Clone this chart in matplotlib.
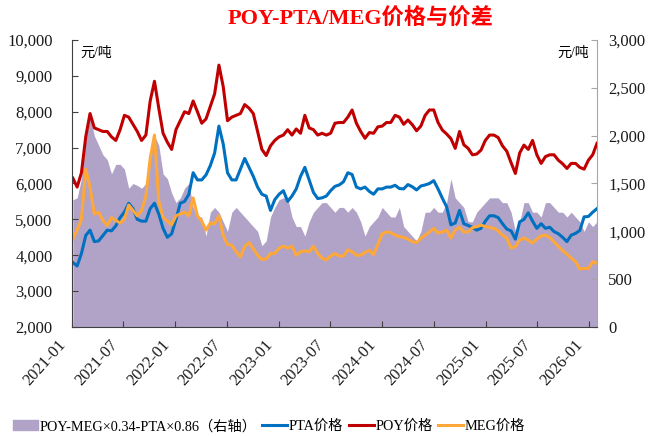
import numpy as np
import pandas as pd
import matplotlib
matplotlib.use("Agg")
import matplotlib.pyplot as plt
import matplotlib.dates as mdates
import matplotlib.ticker as ticker
import matplotlib.transforms as mtransforms
from matplotlib.patches import Patch
from matplotlib.lines import Line2D

plt.rcParams['font.family'] = ['Liberation Serif', 'Noto Sans CJK SC']

# semi-monthly readings, 2021-01 .. 2026-01 (24 per year)
poy = [6150, 5900, 6300, 7300, 7950, 7550, 7500, 7450, 7450, 7300, 7200, 7500,
       7900, 7850, 7650, 7450, 7200, 7350, 8300, 8850, 8100, 7400, 7150, 6950,
       7500, 7750, 8000, 7950, 8300, 8000, 7680, 7800, 8150, 8500, 9300, 8700,
       7750, 7850, 7900, 7950, 8200, 8100, 7950, 7450, 6950, 6780, 7050, 7200,
       7300, 7350, 7500, 7350, 7520, 7400, 7900, 7550, 7500, 7350, 7400, 7350,
       7400, 7680, 7700, 7700, 7850, 8050, 7680, 7450, 7260, 7420, 7400, 7580,
       7600, 7700, 7700, 7900, 7850, 7650, 7770, 7640, 7470, 7600, 7900, 8050,
       8050, 7700, 7490, 7380, 7250, 6980, 7450, 7080, 6980, 6800, 6820, 6930,
       7200, 7350, 7350, 7280, 7050, 6900, 6580, 6280, 6850, 7070, 6950, 7200,
       6800, 6560, 6750, 6800, 6800, 6650, 6550, 6420, 6560, 6560, 6450, 6400,
       6650, 6800, 7120]

pta = [3800, 3700, 4050, 4550, 4700, 4380, 4400, 4550, 4700, 4680, 4820, 5050,
       5200, 5450, 5300, 5000, 4950, 4950, 5300, 5450, 5150, 4750, 4500, 4600,
       5000, 5450, 5500, 5700, 6300, 6100, 6100, 6240, 6500, 6850, 7600, 7100,
       6300, 6100, 6100, 6400, 6700, 6450, 6200, 5900, 5700, 5650, 5250, 5550,
       5700, 5800, 5500, 5650, 5850, 6200, 6450, 6100, 5750, 5580, 5600, 5650,
       5800, 5920, 5960, 6050, 6300, 6250, 5900, 5850, 5900, 5780, 5700, 5850,
       5850, 5900, 5900, 5950, 5860, 5850, 5970, 5910, 5820, 5930, 5960, 6000,
       6080, 5850, 5590, 5350, 4850, 4900, 5250, 4880, 4830, 4780, 4700, 4750,
       4950, 5100, 5100, 5050, 4880, 4730, 4680, 4450, 4930, 5000, 5180, 4950,
       4750, 4880, 4750, 4780, 4660, 4600, 4500, 4380, 4560, 4610, 4690, 5070,
       5080, 5200, 5300]

meg = [4450, 4700, 5000, 6400, 5900, 5150, 5200, 4970, 4830, 5050, 4970, 4900,
       5000, 5400, 5250, 5100, 5250, 5650, 6700, 7350, 5500, 5060, 4950, 4850,
       5100, 5150, 5200, 5100, 5600, 5100, 4950, 4700, 4900, 4880, 5100, 4550,
       4300, 4280, 4100, 3950, 4250, 4350, 4180, 4000, 3880, 3900, 4050, 4050,
       4200, 4250, 4200, 4250, 4000, 4100, 4120, 4100, 4250, 4050, 3920, 3870,
       3980, 4050, 3980, 3980, 4150, 4100, 4000, 4000, 4080, 4140, 4020, 4300,
       4600, 4650, 4630, 4560, 4520, 4500, 4450, 4380, 4350, 4470, 4560, 4650,
       4750, 4620, 4650, 4700, 4480, 4700, 4780, 4650, 4650, 4770, 4800, 4840,
       4800, 4780, 4750, 4680, 4560, 4480, 4200, 4240, 4420, 4480, 4420, 4340,
       4450, 4540, 4560, 4500, 4370, 4250, 4130, 4030, 3920, 3820, 3620, 3630,
       3630, 3820, 3780]

# POY-MEG*0.34-PTA*0.86, right axis
spread = [1330, 1350, 1550, 1950, 2200, 2000, 1900, 1800, 1750, 1600, 1700, 1700,
          1650, 1450, 1500, 1480, 1450, 1500, 1750, 2000, 1900, 1600, 1550, 1400,
          1300, 1350, 1450, 1500, 1250, 1150, 1150, 950, 1200, 1250, 1200, 1100,
          1000, 1200, 1250, 1200, 1150, 1100, 1050, 1000, 850, 900, 1150, 1250,
          1330, 1350, 1350, 1150, 1050, 1050, 950, 1100, 1200, 1250, 1300, 1300,
          1250, 1200, 1250, 1250, 1200, 1250, 1200, 1100, 950, 1050, 1100, 1150,
          1250, 1200, 1150, 1150, 1250, 1050, 1000, 950, 900, 1000, 1200, 1200,
          1250, 1200, 1200, 1300, 1550, 1350, 1300, 1250, 1100, 1100, 1200, 1250,
          1300, 1350, 1350, 1350, 1300, 1300, 1200, 1000, 1100, 1300, 1300, 1200,
          1200, 1150, 1300, 1300, 1250, 1200, 1200, 1150, 1200, 1150, 1100, 1000,
          1100, 1050, 1100]

dates = pd.date_range('2021-01-04', '2026-01-29', periods=len(poy))

c_area = '#B1A2C8'
c_pta = '#0070C0'
c_poy = '#C00000'
c_meg = '#FFA83A'

fig = plt.figure(figsize=(6.52, 4.36), dpi=100)
ax = fig.add_axes([72/652, 109/436, 525/652, 287/436])
ax2 = ax.twinx()

ax2.fill_between(dates, 0, spread, color=c_area, lw=0)
ax.plot(dates, pta, color=c_pta, lw=2.2)
ax.plot(dates, poy, color=c_poy, lw=2.2)
ax.plot(dates, meg, color=c_meg, lw=2.2)

ax.set_zorder(2)
ax.patch.set_visible(False)

ax.set_ylim(2000, 10000)
ax2.set_ylim(0, 3000)
ax.set_xlim(pd.Timestamp('2021-01-01'), pd.Timestamp('2026-01-29'))
ax.yaxis.set_major_locator(ticker.MultipleLocator(1000))
ax2.yaxis.set_major_locator(ticker.MultipleLocator(500))
ax.yaxis.set_major_formatter(ticker.StrMethodFormatter('{x:,.0f}'))
ax2.yaxis.set_major_formatter(ticker.StrMethodFormatter('{x:,.0f}'))
ax.xaxis.set_major_locator(mdates.MonthLocator(bymonth=[1, 7]))
ax.xaxis.set_major_formatter(mdates.DateFormatter('%Y-%m'))

for a in (ax, ax2):
    a.spines['top'].set_visible(False)
ax.spines['right'].set_visible(False)
ax.spines['left'].set_color('#404040')
ax.spines['bottom'].set_color('#404040')
ax2.spines['left'].set_visible(False)
ax2.spines['bottom'].set_visible(False)
ax2.spines['right'].set_color('#A6A6A6')

ax.tick_params(axis='y', direction='in', length=4, pad=14, labelsize=12, colors='#404040', labelcolor='#1a1a1a')
ax.tick_params(axis='x', direction='in', length=4, pad=8, labelsize=12, colors='#404040', labelcolor='#1a1a1a')
ax2.tick_params(axis='y', direction='in', length=4, pad=8, labelsize=12, colors='#A6A6A6', labelcolor='#1a1a1a')
shift = mtransforms.ScaledTranslation(-6/72, -3/72, fig.dpi_scale_trans)
for lbl in ax.get_xticklabels():
    lbl.set_rotation(48)
    lbl.set_ha('right')
    lbl.set_rotation_mode('anchor')
    lbl.set_va('center')
    lbl.set_transform(lbl.get_transform() + shift)

ax.text(0.015, 0.955, '元/吨', transform=ax.transAxes, fontsize=10, va='center', ha='left')
ax.text(0.985, 0.955, '元/吨', transform=ax.transAxes, fontsize=10, va='center', ha='right')

fig.text(0.553, 0.955, 'POY-PTA/MEG价格与价差', color='#FF0000', fontsize=16,
         fontweight='bold', ha='center', va='center')

handles = [Patch(color=c_area, label='POY-MEG×0.34-PTA×0.86（右轴）'),
           Line2D([], [], color=c_pta, lw=2.2, label='PTA价格'),
           Line2D([], [], color=c_poy, lw=2.2, label='POY价格'),
           Line2D([], [], color=c_meg, lw=2.2, label='MEG价格')]
fig.legend(handles=handles, loc='center', bbox_to_anchor=(0.413, 0.022), ncol=4,
           frameon=False, fontsize=10.3, handlelength=1.75, handletextpad=0.1,
           columnspacing=0.4, borderaxespad=0)

fig.savefig('out.png', dpi=100)
